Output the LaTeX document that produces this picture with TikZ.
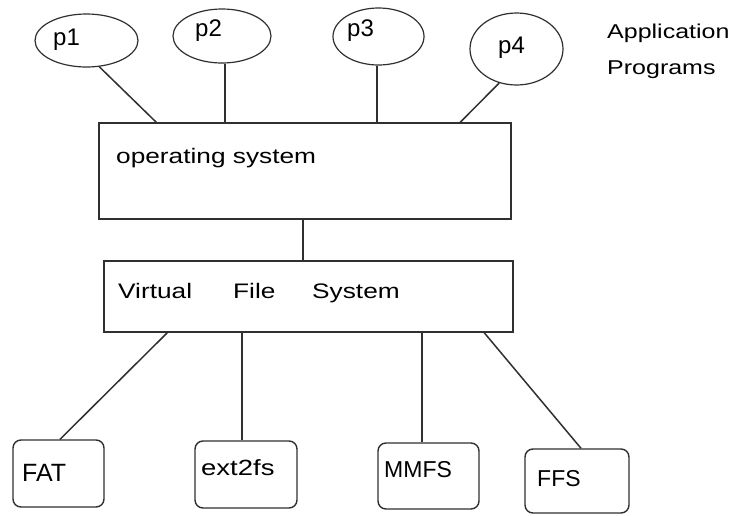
\documentclass[tikz,border=0pt]{standalone}
\usepackage{fontspec}
\setmainfont{Liberation Sans}
\newfontfamily\widefont[FakeStretch=1.25]{Liberation Sans}
\usetikzlibrary{shapes.geometric,calc}
\definecolor{ink}{HTML}{303030}
\tikzset{
  proc/.style={draw=ink, line width=1.2pt, ellipse, inner sep=0pt},
  bigbox/.style={draw=ink, line width=1.5pt, rectangle, inner sep=0pt},
  fsbox/.style={draw=ink, line width=1.4pt, rectangle, rounded corners=8pt, inner sep=0pt},
  lbl/.style={anchor=base west, inner sep=0pt, text=black},
  plbl/.style={lbl, font=\fontsize{24}{28}\selectfont},
  wlbl/.style={lbl, font=\widefont\fontsize{21}{25}\selectfont},
  flbl/.style={lbl, font=\fontsize{23}{27}\selectfont},
  conn/.style={draw=ink, line width=1.5pt}
}
\begin{document}
\begin{tikzpicture}[x=1pt,y=-1pt]
\useasboundingbox (0,0) rectangle (737,515);
\fill[white] (0,0) rectangle (737,515);
% application programs
\node[proc, minimum width=103pt, minimum height=53pt] (p1) at (86.5,40.5) {};
\node[proc, minimum width=98pt, minimum height=54pt] (p2) at (222,36) {};
\node[proc, minimum width=91pt, minimum height=57pt] (p3) at (378.5,36.5) {};
\node[proc, minimum width=93pt, minimum height=72pt] (p4) at (516.5,49) {};
\node[plbl] (t1) at (53,45) {p1};
\node[plbl] (t2) at (195,36) {p2};
\node[plbl] (t3) at (347,36) {p3};
\node[plbl] (t4) at (498,53) {p4};
\node[wlbl, font=\widefont\fontsize{20}{24}\selectfont] (app1) at (607,38) {Application};
\node[wlbl, font=\widefont\fontsize{20}{24}\selectfont] (app2) at (607,74) {Programs};
% operating system
\node[bigbox, minimum width=412pt, minimum height=96pt] (os) at (305,171) {};
\node[wlbl] (ost) at (116,163) {operating system};
% virtual file system
\node[bigbox, minimum width=409pt, minimum height=71pt] (vfs) at (308.5,296.5) {};
\node[wlbl] (v1) at (118,298) {Virtual};
\node[wlbl] (v2) at (233,298) {File};
\node[wlbl] (v3) at (312,298) {System};
% file systems
\node[fsbox, minimum width=91pt, minimum height=67pt] (fat) at (58.5,473.5) {};
\node[fsbox, minimum width=102pt, minimum height=67pt] (ext) at (246,474.5) {};
\node[fsbox, minimum width=101pt, minimum height=66pt] (mm) at (428.5,476) {};
\node[fsbox, minimum width=104pt, minimum height=64pt] (ffs) at (577,481) {};
\node[lbl, font=\fontsize{25}{29}\selectfont] (fatt) at (22,481) {FAT};
\node[lbl, font=\widefont\fontsize{22}{26}\selectfont] (extt) at (201,475) {ext2fs};
\node[flbl] (mmt) at (384,477) {MMFS};
\node[flbl] (ffst) at (537,486) {FFS};
% connectors
\draw[conn] (p1.-64) -- ($(os.north west)+(58,0)$);
\draw[conn] ($(p2.south)+(3,0)$) -- ($(p2.south |- os.north)+(3,0)$);
\draw[conn] ($(p3.south)+(-1.5,0)$) -- ($(p3.south |- os.north)+(-1.5,0)$);
\draw[conn] (p4.-117) -- ($(os.north west)+(362,0)$);
\draw[conn] ($(os.south)+(-2,0)$) -- ($(os.south |- vfs.north)+(-2,0)$);
\draw[conn] ($(vfs.south west)+(64,0)$) -- ($(fat.north)+(1.5,0)$);
\draw[conn] ($(ext.north)+(-4,0)$) -- ($(ext.north |- vfs.south)+(-4,0)$);
\draw[conn] ($(mm.north)+(-6.5,0)$) -- ($(mm.north |- vfs.south)+(-6.5,0)$);
\draw[conn] ($(vfs.south west)+(381,0)$) -- ($(ffs.north)+(4,0)$);
\end{tikzpicture}
\end{document}
